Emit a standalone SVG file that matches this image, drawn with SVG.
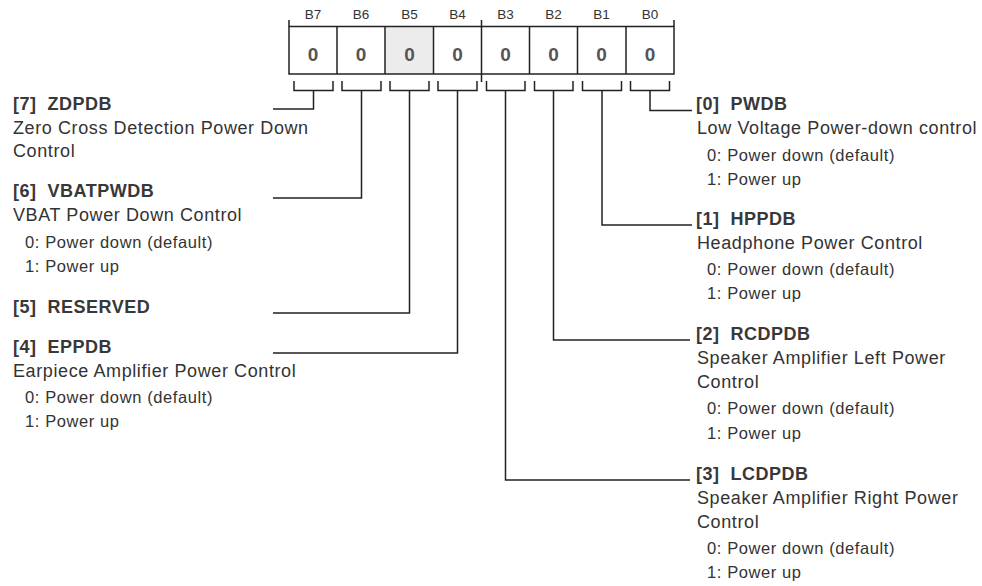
<svg xmlns="http://www.w3.org/2000/svg" width="982" height="586" viewBox="0 0 982 586">
<style>
.ln{fill:none;stroke:#222;stroke-width:1.5}
.bl{font-family:"Liberation Sans",Arial,sans-serif;font-size:13.5px;fill:#333;text-anchor:middle}
.val{font-family:"Liberation Sans",Arial,sans-serif;font-size:19px;font-weight:bold;fill:#555;text-anchor:middle}
.h{font-family:"Liberation Sans",Arial,sans-serif;font-size:18px;font-weight:bold;fill:#383838;letter-spacing:0.5px}
.t{font-family:"Liberation Sans",Arial,sans-serif;font-size:18px;fill:#333;letter-spacing:0.6px}
.s{font-family:"Liberation Sans",Arial,sans-serif;font-size:16.5px;fill:#333;letter-spacing:0.6px}
</style>
<rect width="982" height="586" fill="#fff"/>
<g id="register">
<rect x="385" y="26.5" width="48.5" height="47.5" fill="#ececec"/>
<rect x="289" y="26.5" width="385" height="47.5" class="ln"/>
<path class="ln" d="M337,26.5V74M385,26.5V74M433.5,26.5V74M529.5,26.5V74M577.5,26.5V74M626,26.5V74"/>
<path class="ln" d="M289,20V26.5M481.5,20V82M674,20V26.5"/>
<path class="ln" d="M294,81V90.5H333V81M342,81V90.5H381V81M390,81V90.5H429V81M438,81V90.5H477V81M486.5,81V90.5H525V81M534.5,81V90.5H573V81M582.5,81V90.5H621.5V81M630.5,81V90.5H669.5V81"/>
<text class="bl" x="313" y="19">B7</text>
<text class="bl" x="361" y="19">B6</text>
<text class="bl" x="409.5" y="19">B5</text>
<text class="bl" x="457.5" y="19">B4</text>
<text class="bl" x="505.5" y="19">B3</text>
<text class="bl" x="553.5" y="19">B2</text>
<text class="bl" x="601.5" y="19">B1</text>
<text class="bl" x="650" y="19">B0</text>
<text class="val" x="313" y="60.5">0</text>
<text class="val" x="361" y="60.5">0</text>
<text class="val" x="409.5" y="60.5">0</text>
<text class="val" x="457.5" y="60.5">0</text>
<text class="val" x="505.5" y="60.5">0</text>
<text class="val" x="553.5" y="60.5">0</text>
<text class="val" x="601.5" y="60.5">0</text>
<text class="val" x="650" y="60.5">0</text>
</g>
<g id="connectors">
<path class="ln" d="M313.5,90.5V109H273"/>
<path class="ln" d="M361.5,90.5V198H273"/>
<path class="ln" d="M409.5,90.5V313H273"/>
<path class="ln" d="M457.5,90.5V353H273"/>
<path class="ln" d="M505.5,90.5V480H690"/>
<path class="ln" d="M553.5,90.5V340H690"/>
<path class="ln" d="M602,90.5V225H692"/>
<path class="ln" d="M650,90.5V110.5H692"/>
</g>
<g id="bit7">
<text class="h" x="13" y="110">[7]&#160; ZDPDB</text>
<text class="t" x="13" y="133.5">Zero Cross Detection Power Down</text>
<text class="t" x="13" y="157">Control</text>
</g>
<g id="bit6">
<text class="h" x="13" y="197">[6]&#160; VBATPWDB</text>
<text class="t" x="13" y="221">VBAT Power Down Control</text>
<text class="s" x="25" y="248">0: Power down (default)</text>
<text class="s" x="25" y="272">1: Power up</text>
</g>
<g id="bit5">
<text class="h" x="13" y="313">[5]&#160; RESERVED</text>
</g>
<g id="bit4">
<text class="h" x="13" y="353">[4]&#160; EPPDB</text>
<text class="t" x="13" y="377">Earpiece Amplifier Power Control</text>
<text class="s" x="25" y="403">0: Power down (default)</text>
<text class="s" x="25" y="427">1: Power up</text>
</g>
<g id="bit0">
<text class="h" x="696" y="110">[0]&#160; PWDB</text>
<text class="t" x="697" y="134">Low Voltage Power-down control</text>
<text class="s" x="707" y="161">0: Power down (default)</text>
<text class="s" x="707" y="184.5">1: Power up</text>
</g>
<g id="bit1">
<text class="h" x="696" y="225">[1]&#160; HPPDB</text>
<text class="t" x="697" y="249">Headphone Power Control</text>
<text class="s" x="707" y="275">0: Power down (default)</text>
<text class="s" x="707" y="299">1: Power up</text>
</g>
<g id="bit2">
<text class="h" x="696" y="340">[2]&#160; RCDPDB</text>
<text class="t" x="697" y="364">Speaker Amplifier Left Power</text>
<text class="t" x="697" y="388">Control</text>
<text class="s" x="707" y="414">0: Power down (default)</text>
<text class="s" x="707" y="439">1: Power up</text>
</g>
<g id="bit3">
<text class="h" x="696" y="480">[3]&#160; LCDPDB</text>
<text class="t" x="697" y="504">Speaker Amplifier Right Power</text>
<text class="t" x="697" y="528">Control</text>
<text class="s" x="707" y="554">0: Power down (default)</text>
<text class="s" x="707" y="578">1: Power up</text>
</g>
</svg>
